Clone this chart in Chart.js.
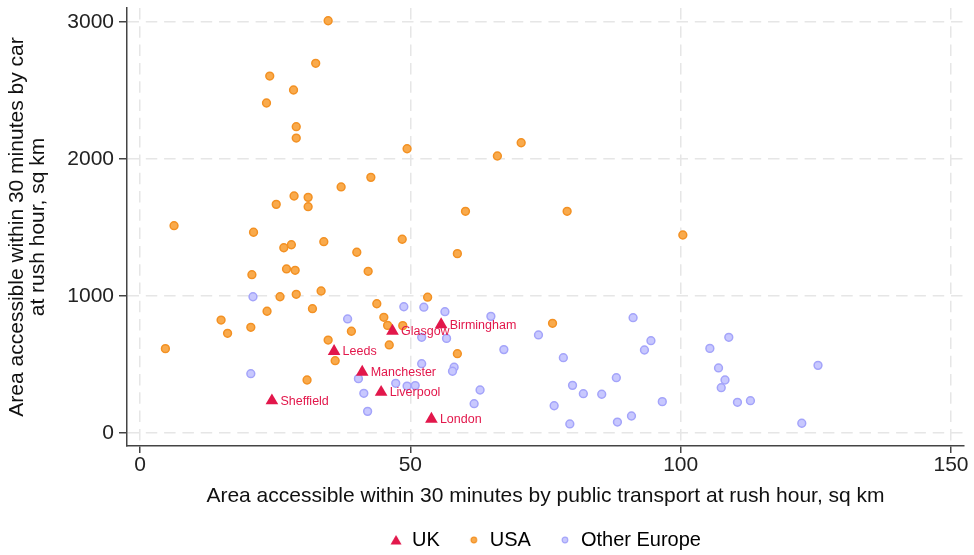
<!DOCTYPE html>
<html>
<head>
<meta charset="utf-8">
<title>Area accessible within 30 minutes at rush hour</title>
<script src="https://cdn.jsdelivr.net/npm/chart.js@4.4.1/dist/chart.umd.min.js"></script>
<style>
  html, body { margin: 0; padding: 0; background: #ffffff; }
  #wrap { width: 974px; height: 555px; }
</style>
</head>
<body>
<div id="wrap"><canvas id="chart" width="974" height="555"></canvas></div>
<script>
// Area reachable in 30 minutes at rush hour (sq km): public transport (x) vs car (y)
const seriesNames = ['UK', 'USA', 'Other Europe'];

const ukCities  = ['Birmingham', 'Glasgow', 'Leeds', 'Manchester', 'Liverpool', 'Sheffield', 'London'];
const ukTransit = [55.7, 46.7, 35.9, 41.1, 44.6, 24.4, 53.9];
const ukCar     = [792, 745, 597, 445, 298, 236, 101];

const usaTransit = [34.8, 32.5, 24.0, 28.4, 23.4, 28.9, 28.9, 49.4, 70.5, 66.1,
                    42.7, 37.2, 28.5, 31.1, 25.2, 31.1, 60.2, 79.0, 6.3, 21.0,
                    100.4, 48.5, 34.0, 28.0, 26.6, 40.1, 58.7, 27.1, 28.7, 42.2,
                    20.7, 33.5, 28.9, 25.9, 53.2, 43.8, 31.9, 23.5, 45.1, 15.0,
                    76.3, 45.8, 48.6, 20.5, 39.1, 16.2, 34.8, 46.1, 4.7, 58.7,
                    36.1, 30.9];
const usaCar     = [3011, 2700, 2607, 2505, 2410, 2237, 2154, 2076, 2120, 2023,
                    1867, 1797, 1731, 1721, 1670, 1653, 1619, 1619, 1514, 1466,
                    1446, 1415, 1397, 1375, 1353, 1320, 1310, 1198, 1188, 1181,
                    1156, 1037, 1013, 995, 992, 944, 908, 889, 845, 825,
                    801, 786, 784, 772, 743, 728, 679, 643, 616, 579,
                    528, 387];

const europeTransit = [20.9, 48.8, 52.5, 56.4, 64.9, 91.2, 38.4, 73.7, 52.1, 56.7,
                       108.9, 94.5, 105.4, 67.3, 93.3, 78.3, 52.1, 58.1, 107.0, 57.8,
                       20.5, 125.4, 88.1, 40.4, 108.2, 47.3, 80.0, 49.4, 50.9, 107.5,
                       62.9, 41.4, 82.0, 85.4, 96.6, 112.9, 110.5, 61.8, 76.6, 42.1,
                       90.9, 88.3, 79.5, 122.4];
const europeCar     = [995, 922, 919, 886, 852, 842, 833, 716, 699, 691,
                       699, 674, 618, 609, 606, 550, 506, 480, 475, 451,
                       433, 494, 404, 397, 387, 363, 348, 343, 346, 331,
                       314, 290, 287, 283, 229, 236, 224, 214, 199, 158,
                       124, 80, 66, 71];

const xTicks = [0, 50, 100, 150];
const yTicks = [0, 1000, 2000, 3000];

const UK_RED = '#e2174b';
const USA_FILL = '#f9aa4c', USA_EDGE = '#f39123';
const EU_FILL = '#c8c8fe', EU_EDGE = '#a4a4fa';
const FONT = '"Liberation Sans", Arial, Helvetica, sans-serif';

Chart.defaults.font.family = FONT;

const toPoints = (xs, ys) => xs.map((x, i) => ({ x: x, y: ys[i] }));

// small legend icons: triangle for UK, dots for the others
function legendIcon(kind, fill, edge) {
  const c = document.createElement('canvas');
  c.width = 14; c.height = 14;
  const g = c.getContext('2d');
  g.fillStyle = fill;
  g.beginPath();
  if (kind === 'triangle') {
    g.moveTo(7, 2);
    g.lineTo(12.5, 11.5);
    g.lineTo(1.5, 11.5);
    g.closePath();
    g.fill();
  } else {
    g.arc(7, 7, 2.8, 0, Math.PI * 2);
    g.fill();
    g.lineWidth = 1.2;
    g.strokeStyle = edge;
    g.stroke();
  }
  return c;
}
const icons = [
  legendIcon('triangle', UK_RED, UK_RED),
  legendIcon('circle', USA_FILL, USA_EDGE),
  legendIcon('circle', EU_FILL, EU_EDGE)
];

// city names next to the UK triangles
const cityLabels = {
  id: 'cityLabels',
  afterDatasetsDraw(chart) {
    const meta = chart.getDatasetMeta(0);
    const ctx = chart.ctx;
    ctx.save();
    ctx.font = '12.5px ' + FONT;
    ctx.fillStyle = UK_RED;
    ctx.textAlign = 'left';
    ctx.textBaseline = 'middle';
    meta.data.forEach((pt, i) => {
      ctx.fillText(ukCities[i], pt.x + 8.5, pt.y + 0.5);
    });
    ctx.restore();
  }
};

const gridStyle = {
  color: '#e6e6e6',
  lineWidth: 1.5,
  drawTicks: true,
  tickColor: '#444444',
  tickWidth: 1.5
};

// keep the plot frame fixed: no extra room reserved for end tick labels
function clearEdgePadding(s) {
  s.paddingTop = 0; s.paddingBottom = 0;
  s.paddingLeft = 0; s.paddingRight = 0;
}

new Chart(document.getElementById('chart'), {
  type: 'scatter',
  data: {
    datasets: [
      {
        label: seriesNames[0],
        data: toPoints(ukTransit, ukCar),
        pointStyle: 'triangle',
        pointRadius: 7.3,
        backgroundColor: UK_RED,
        borderColor: UK_RED,
        borderWidth: 0
      },
      {
        label: seriesNames[1],
        data: toPoints(usaTransit, usaCar),
        pointStyle: 'circle',
        pointRadius: 3.9,
        backgroundColor: USA_FILL,
        borderColor: USA_EDGE,
        borderWidth: 1.5
      },
      {
        label: seriesNames[2],
        data: toPoints(europeTransit, europeCar),
        pointStyle: 'circle',
        pointRadius: 3.9,
        backgroundColor: EU_FILL,
        borderColor: EU_EDGE,
        borderWidth: 1.5
      }
    ]
  },
  options: {
    responsive: false,
    animation: false,
    devicePixelRatio: 1,
    events: [],
    layout: { padding: { top: 8, right: 10, bottom: 0, left: 0 } },
    scales: {
      x: {
        type: 'linear',
        min: -2.4,
        max: 152.4,
        afterBuildTicks: (s) => { s.ticks = xTicks.map(v => ({ value: v })); },
        afterFit: (s) => { s.height = 56; clearEdgePadding(s); },
        grid: Object.assign({ tickLength: 7 }, gridStyle),
        border: { display: true, color: '#444444', width: 1.5, dash: [11.5, 6.8] },
        ticks: {
          padding: 0,
          color: '#222222',
          font: { size: 21 },
          maxRotation: 0,
          autoSkip: false,
          callback: (v) => String(v)
        },
        title: {
          display: true,
          text: 'Area accessible within 30 minutes by public transport at rush hour, sq km',
          color: '#111111',
          font: { size: 21, lineHeight: 0.571 },
          padding: 0
        }
      },
      y: {
        type: 'linear',
        min: -95,
        max: 3104,
        afterBuildTicks: (s) => { s.ticks = yTicks.map(v => ({ value: v })); },
        afterFit: (s) => { s.width = 127; clearEdgePadding(s); },
        grid: Object.assign({ tickLength: 8 }, gridStyle),
        border: { display: true, color: '#444444', width: 1.5, dash: [11.5, 6.8] },
        ticks: {
          padding: 5,
          color: '#222222',
          font: { size: 21 },
          autoSkip: false,
          callback: (v) => String(v)
        },
        title: {
          display: true,
          text: ['Area accessible within 30 minutes by car', 'at rush hour, sq km'],
          color: '#111111',
          font: { size: 21, lineHeight: 1.0 },
          padding: { top: 7, bottom: 0 }
        }
      }
    },
    plugins: {
      tooltip: { enabled: false },
      legend: {
        position: 'bottom',
        fullSize: false,
        maxHeight: 53,
        labels: {
          usePointStyle: true,
          boxWidth: 12,
          boxHeight: 12,
          padding: 28,
          color: '#111111',
          font: { size: 20 },
          generateLabels: (chart) => chart.data.datasets.map((ds, i) => ({
            text: ds.label,
            pointStyle: icons[i],
            fillStyle: ds.backgroundColor,
            strokeStyle: ds.borderColor,
            lineWidth: 0,
            hidden: false,
            datasetIndex: i
          }))
        }
      }
    }
  },
  plugins: [cityLabels]
});
</script>
</body>
</html>
